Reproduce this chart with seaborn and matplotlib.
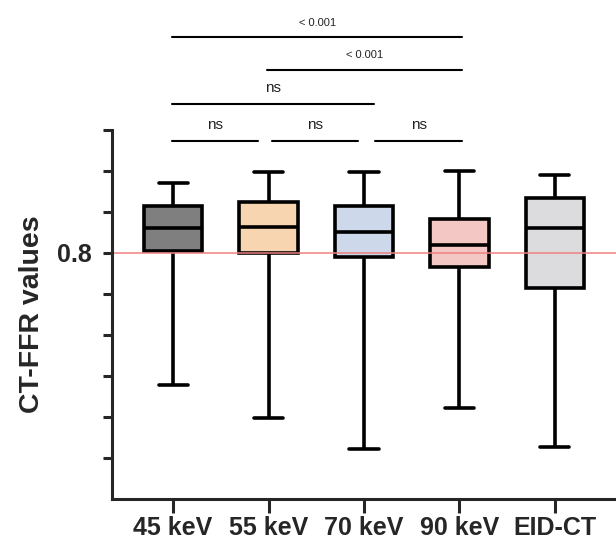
import numpy as np
import pandas as pd
import matplotlib
matplotlib.use("Agg")
import matplotlib.pyplot as plt
import seaborn as sns

# Five-number summaries (min, Q1, median, Q3, max)
groups = ['45 keV', '55 keV', '70 keV', '90 keV', 'EID-CT']
whisk_lo = [0.639, 0.599, 0.561, 0.611, 0.563]
q1 = [0.802, 0.800, 0.795, 0.783, 0.757]
median = [0.830, 0.832, 0.826, 0.810, 0.830]
q3 = [0.857, 0.862, 0.857, 0.842, 0.867]
whisk_hi = [0.885, 0.899, 0.899, 0.900, 0.895]
colors = ['#7f7f7f', '#f6d5b0', '#cdd8ea', '#f3c8c4', '#dcdcdf']

# significance comparisons (label, line start, line end, level)
sig_labels = ['< 0.001', '< 0.001', 'ns', 'ns', 'ns', 'ns']
sig_x0 = [-0.01, 0.98, -0.01, -0.01, 1.04, 2.12]
sig_x1 = [3.03, 3.03, 2.10, 0.89, 1.94, 3.03]
sig_y = [1.063, 1.023, 0.982, 0.937, 0.937, 0.937]
sig_size = [8, 8, 11, 11, 11, 11]

cutoff = 0.8

# tabela longa: com 5 pontos por grupo os quartis saem exatos
rows = []
for i, g in enumerate(groups):
    for v in (whisk_lo[i], q1[i], median[i], q3[i], whisk_hi[i]):
        rows.append({'group': g, 'value': v})
df = pd.DataFrame(rows)

sns.set_style('ticks')
plt.rcParams['font.family'] = ['Liberation Sans', 'DejaVu Sans']

fig = plt.figure(figsize=(6.16, 5.46), dpi=100)
ax = fig.add_axes([112 / 616, 47 / 546, 504 / 616, 369 / 546])

sns.boxplot(data=df, x='group', y='value', hue='group', palette=colors,
            whis=(0, 100), width=0.61, linewidth=2.6, linecolor='black',
            legend=False, ax=ax, saturation=1)

ax.axhline(cutoff, color='#f08080', lw=1.1, zorder=2.5)

ax.set_xlim(-0.64, 4.64)
ax.set_ylim(0.5, 0.95)
yt = np.round(np.arange(0.55, 0.951, 0.05), 2)
ax.set_yticks(yt)
ax.set_yticklabels(['0.8' if abs(t - 0.8) < 1e-9 else '' for t in yt])

ax.set_xlabel('')
ax.set_ylabel('CT-FFR values', fontsize=20.5, fontweight='bold', labelpad=9)
ax.tick_params(axis='x', length=10, width=2.2, labelsize=18, pad=2)
ax.tick_params(axis='y', length=6.5, width=2.2, labelsize=18, pad=8)
for lab in ax.get_xticklabels() + ax.get_yticklabels():
    lab.set_fontweight('bold')

sns.despine(ax=ax)
for side in ['left', 'bottom']:
    ax.spines[side].set_linewidth(2.2)

# barras de significância
for lab, x0, x1, y, fs in zip(sig_labels, sig_x0, sig_x1, sig_y, sig_size):
    ax.plot([x0, x1], [y, y], color='black', lw=1.5, clip_on=False)
    ax.annotate(lab, xy=((x0 + x1) / 2, y), xytext=(0, 8.5),
                textcoords='offset points', ha='center', va='baseline',
                fontsize=fs, color='#222222', annotation_clip=False)

fig.savefig('out.png', dpi=100)
